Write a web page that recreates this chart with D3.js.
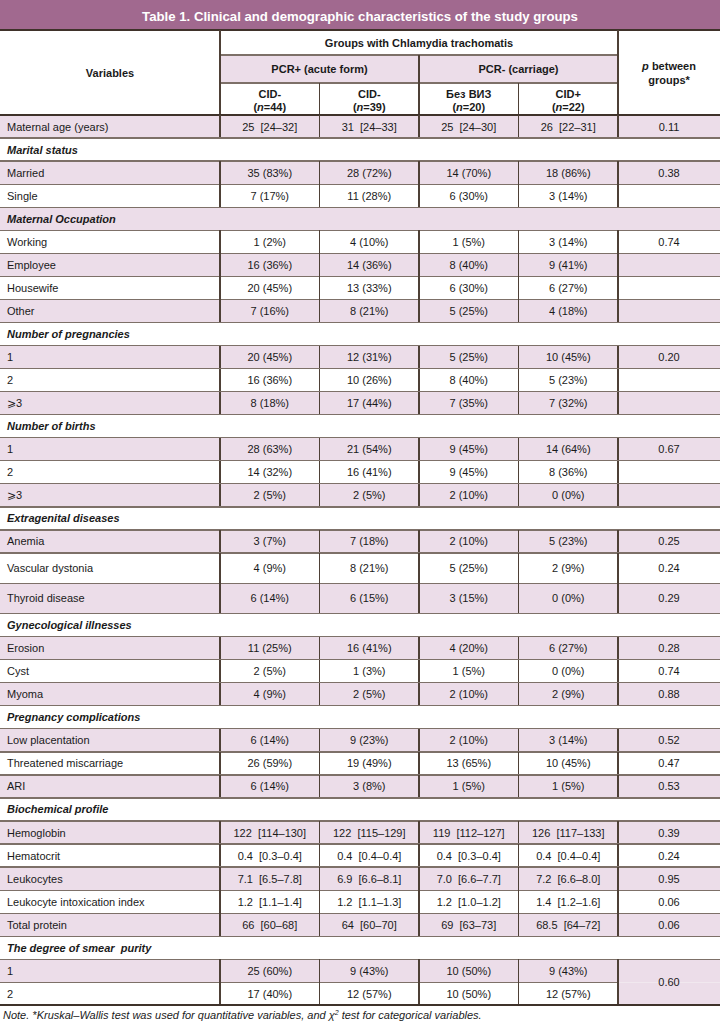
<!DOCTYPE html>
<html><head><meta charset="utf-8">
<script src="https://cdn.jsdelivr.net/npm/d3@7"></script>
<style>
body{margin:0;background:#fff}
svg{display:block}
text{font-family:"Liberation Sans",Arial,Helvetica,sans-serif;fill:#1a1a1a}
</style>
</head><body>
<svg id="c" width="720" height="1024"></svg>
<script>
// ---------- DATA ----------
const tableTitle = "Table 1. Clinical and demographic characteristics of the study groups";
const groupHeader = "Groups with Chlamydia trachomatis";
const subGroups = ["PCR+ (acute form)", "PCR- (carriage)"];
const colNames = ["CID-", "CID-", "Без ВИЗ", "CID+"];
const colN = ["44", "39", "20", "22"];
const noteText = ["Note. *Kruskal–Wallis test was used for quantitative variables, and χ", "2", " test for categorical variables."];

const maternalAge = ["Maternal age (years)", "25 [24–32]", "31 [24–33]", "25 [24–30]", "26 [22–31]", "0.11"];

const sectionNames = [
  "Marital status", "Maternal Occupation", "Number of pregnancies", "Number of births",
  "Extragenital diseases", "Gynecological illnesses", "Pregnancy complications",
  "Biochemical profile", "The degree of smear  purity"
];
// each row: label, CID- (n=44), CID- (n=39), Без ВИЗ (n=20), CID+ (n=22), p ; p=null -> merged with row above
const maritalRows = [
  ["Married", "35 (83%)", "28 (72%)", "14 (70%)", "18 (86%)", "0.38"],
  ["Single", "7 (17%)", "11 (28%)", "6 (30%)", "3 (14%)", ""]
];
const occupationRows = [
  ["Working", "1 (2%)", "4 (10%)", "1 (5%)", "3 (14%)", "0.74"],
  ["Employee", "16 (36%)", "14 (36%)", "8 (40%)", "9 (41%)", ""],
  ["Housewife", "20 (45%)", "13 (33%)", "6 (30%)", "6 (27%)", ""],
  ["Other", "7 (16%)", "8 (21%)", "5 (25%)", "4 (18%)", ""]
];
const pregnancyRows = [
  ["1", "20 (45%)", "12 (31%)", "5 (25%)", "10 (45%)", "0.20"],
  ["2", "16 (36%)", "10 (26%)", "8 (40%)", "5 (23%)", ""],
  ["⩾3", "8 (18%)", "17 (44%)", "7 (35%)", "7 (32%)", ""]
];
const birthRows = [
  ["1", "28 (63%)", "21 (54%)", "9 (45%)", "14 (64%)", "0.67"],
  ["2", "14 (32%)", "16 (41%)", "9 (45%)", "8 (36%)", ""],
  ["⩾3", "2 (5%)", "2 (5%)", "2 (10%)", "0 (0%)", ""]
];
const extragenitalRows = [
  ["Anemia", "3 (7%)", "7 (18%)", "2 (10%)", "5 (23%)", "0.25"],
  ["Vascular dystonia", "4 (9%)", "8 (21%)", "5 (25%)", "2 (9%)", "0.24"],
  ["Thyroid disease", "6 (14%)", "6 (15%)", "3 (15%)", "0 (0%)", "0.29"]
];
const gynecologicalRows = [
  ["Erosion", "11 (25%)", "16 (41%)", "4 (20%)", "6 (27%)", "0.28"],
  ["Cyst", "2 (5%)", "1 (3%)", "1 (5%)", "0 (0%)", "0.74"],
  ["Myoma", "4 (9%)", "2 (5%)", "2 (10%)", "2 (9%)", "0.88"]
];
const complicationRows = [
  ["Low placentation", "6 (14%)", "9 (23%)", "2 (10%)", "3 (14%)", "0.52"],
  ["Threatened miscarriage", "26 (59%)", "19 (49%)", "13 (65%)", "10 (45%)", "0.47"],
  ["ARI", "6 (14%)", "3 (8%)", "1 (5%)", "1 (5%)", "0.53"]
];
const biochemRows = [
  ["Hemoglobin", "122 [114–130]", "122 [115–129]", "119 [112–127]", "126 [117–133]", "0.39"],
  ["Hematocrit", "0.4 [0.3–0.4]", "0.4 [0.4–0.4]", "0.4 [0.3–0.4]", "0.4 [0.4–0.4]", "0.24"],
  ["Leukocytes", "7.1 [6.5–7.8]", "6.9 [6.6–8.1]", "7.0 [6.6–7.7]", "7.2 [6.6–8.0]", "0.95"],
  ["Leukocyte intoxication index", "1.2 [1.1–1.4]", "1.2 [1.1–1.3]", "1.2 [1.0–1.2]", "1.4 [1.2–1.6]", "0.06"],
  ["Total protein", "66 [60–68]", "64 [60–70]", "69 [63–73]", "68.5 [64–72]", "0.06"]
];
const smearRows = [
  ["1", "25 (60%)", "9 (43%)", "10 (50%)", "9 (43%)", "0.60"],
  ["2", "17 (40%)", "12 (57%)", "10 (50%)", "12 (57%)", null]
];
const sectionRows = [maritalRows, occupationRows, pregnancyRows, birthRows, extragenitalRows,
  gynecologicalRows, complicationRows, biochemRows, smearRows];

// ---------- LAYOUT ----------
const W = 720;
const pink = "#ecdde9", purple = "#a1698f";
const hLine = "#7d7068", vLine = "#4e4036", darkLine = "#3f322a";
const FS = 11;
const tallRows = new Set(["Vascular dystonia", "Thyroid disease"]);
const rowH = 23.05, tallH = 30.3;
const labelW = 220, pX0 = 618;
const x = d3.scaleBand().domain(d3.range(colNames.length)).range([labelW, pX0]);

// flatten rows
const flat = [{type: "data", cells: maternalAge}];
sectionNames.forEach((s, i) => {
  flat.push({type: "section", label: s});
  sectionRows[i].forEach(r => flat.push({type: "data", cells: r}));
});
let yCur = 115;
flat.forEach((r, i) => {
  r.y = yCur;
  r.h = (r.type === "data" && tallRows.has(r.cells[0])) ? tallH : rowH;
  r.fill = i % 2 === 0 ? pink : "#ffffff";
  yCur += r.h;
});
const tableBottom = yCur;

const svg = d3.select("#c");
svg.append("rect").attr("width", 720).attr("height", 1024).attr("fill", "#fff");

// Title bar
svg.append("rect").attr("x", 0).attr("y", 0).attr("width", W).attr("height", 30).attr("fill", purple);
svg.append("text").attr("x", W / 2).attr("y", 20.5).attr("text-anchor", "middle")
  .attr("font-size", 13.2).attr("font-weight", "bold").style("fill", "#fff").text(tableTitle);

// Header backgrounds
svg.append("rect").attr("x", labelW).attr("y", 55).attr("width", pX0 - labelW).attr("height", 28).attr("fill", pink);

// Row backgrounds
const bg = svg.append("g");
flat.forEach((r, i) => {
  bg.append("rect").attr("x", 0).attr("y", r.y).attr("width", W).attr("height", r.h).attr("fill", r.fill);
  if (r.type === "data" && r.cells[5] === null) {
    // merged p cell: paint with the colour of the row above
    bg.append("rect").attr("x", pX0).attr("y", r.y).attr("width", W - pX0).attr("height", r.h).attr("fill", flat[i - 1].fill);
  }
});

// Lines
const lines = svg.append("g").attr("shape-rendering", "crispEdges");
function ln(x1, y1, x2, y2, c, w) {
  lines.append("line").attr("x1", x1).attr("y1", y1).attr("x2", x2).attr("y2", y2)
    .attr("stroke", c).attr("stroke-width", w);
}
// header lines
ln(0, 30, W, 30, darkLine, 1.5);
ln(labelW, 55, pX0, 55, hLine, 1.3);
ln(labelW, 83, pX0, 83, hLine, 1.3);
ln(labelW, 30, labelW, 115, vLine, 1.3);
ln(pX0, 30, pX0, 115, vLine, 1.3);
ln(x(2), 55, x(2), 115, vLine, 1.3);
ln(x(1), 83, x(1), 115, vLine, 1.3);
ln(x(3), 83, x(3), 115, vLine, 1.3);
ln(0, 115, W, 115, darkLine, 1.5);

flat.forEach((r, i) => {
  if (i > 0) {
    const merged = r.type === "data" && r.cells[5] === null;
    ln(0, r.y, merged ? pX0 : W, r.y, hLine, 1.3);
  }
  if (r.type === "data") {
    [labelW, x(1), x(2), x(3), pX0].forEach(xx => ln(xx, r.y, xx, r.y + r.h, vLine, 1.3));
  }
});
ln(0, tableBottom, W, tableBottom, darkLine, 2);

// Header text
const hdr = svg.append("g").attr("font-size", FS).attr("font-weight", "bold").attr("text-anchor", "middle");
hdr.append("text").attr("x", labelW / 2).attr("y", 77).text("Variables");
hdr.append("text").attr("x", (labelW + pX0) / 2).attr("y", 46.5).text(groupHeader);
hdr.append("text").attr("x", (labelW + x(2)) / 2).attr("y", 73).text(subGroups[0]);
hdr.append("text").attr("x", (x(2) + pX0) / 2).attr("y", 73).text(subGroups[1]);
colNames.forEach((c, j) => {
  const cx = x(j) + x.bandwidth() / 2;
  hdr.append("text").attr("x", cx).attr("y", 97.5).text(c);
  const t = hdr.append("text").attr("x", cx).attr("y", 111);
  t.append("tspan").text("(");
  t.append("tspan").attr("font-style", "italic").text("n");
  t.append("tspan").text("=" + colN[j] + ")");
});
const pt = hdr.append("text").attr("x", (pX0 + W) / 2).attr("y", 70);
pt.append("tspan").attr("font-style", "italic").text("p");
pt.append("tspan").text(" between");
hdr.append("text").attr("x", (pX0 + W) / 2).attr("y", 84).text("groups*");

// Body text
const body = svg.append("g").attr("font-size", FS);
flat.forEach((r, i) => {
  const by = r.y + r.h / 2 + 4;
  if (r.type === "section") {
    body.append("text").attr("x", 7).attr("y", by).attr("font-weight", "bold").attr("font-style", "italic")
      .style("white-space", "pre").text(r.label);
    return;
  }
  body.append("text").attr("x", 7).attr("y", by).text(r.cells[0]);
  r.cells.slice(1, 5).forEach((v, j) => {
    body.append("text").attr("x", x(j) + x.bandwidth() / 2).attr("y", by).attr("text-anchor", "middle")
      .style("white-space", "pre").text(v.replace(" [", "  ["));
  });
  const p = r.cells[5];
  if (p) {
    const next = flat[i + 1];
    const span = next && next.type === "data" && next.cells[5] === null;
    const py = span ? r.y + (r.h + next.h) / 2 + 4 : by;
    body.append("text").attr("x", (pX0 + W) / 2).attr("y", py).attr("text-anchor", "middle").text(p);
  }
});

// Note
const nt = svg.append("text").attr("x", 3).attr("y", tableBottom + 14).attr("font-size", FS).attr("font-style", "italic");
nt.append("tspan").text(noteText[0]);
nt.append("tspan").attr("font-size", 7).attr("dy", -4).text(noteText[1]);
nt.append("tspan").attr("dy", 4).text(noteText[2]);
</script>
</body></html>
